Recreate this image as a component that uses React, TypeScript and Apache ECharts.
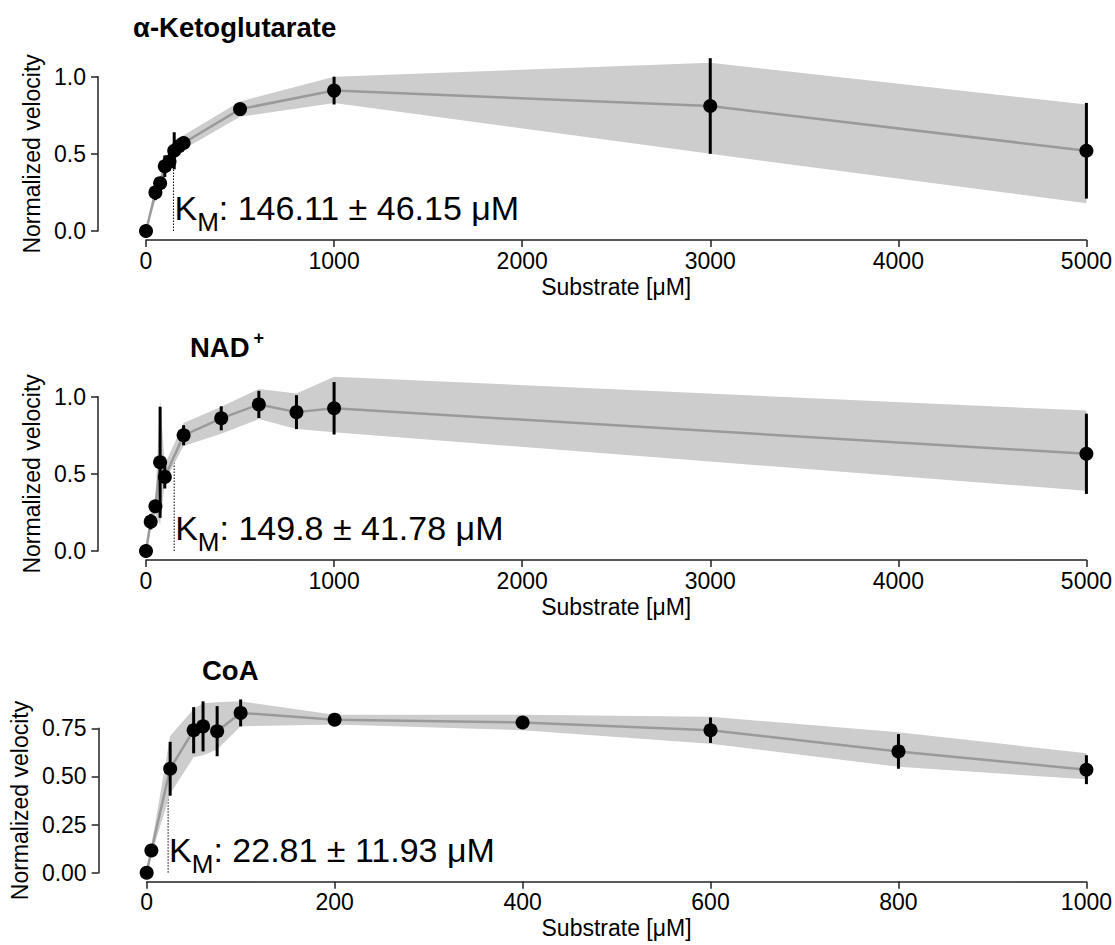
import React, { useEffect, useRef } from "react";
import * as echarts from "echarts";

// ---------- data ----------
const akgX = [0, 50, 75, 100, 125, 150, 175, 200, 500, 1000, 3000, 5000];
const akgY = [0, 0.25, 0.31, 0.42, 0.45, 0.52, 0.55, 0.57, 0.79, 0.91, 0.81, 0.52];
const akgErr = [0, 0.05, 0.04, 0.07, 0.06, 0.12, 0.05, 0.03, 0.02, 0.09, 0.31, 0.31];
const akgLow = [0, 0.2, 0.27, 0.36, 0.4, 0.46, 0.5, 0.53, 0.74, 0.83, 0.5, 0.18];
const akgHigh = [0, 0.3, 0.35, 0.48, 0.5, 0.58, 0.6, 0.62, 0.84, 1.0, 1.09, 0.82];

const nadX = [0, 25, 50, 75, 100, 200, 400, 600, 800, 1000, 5000];
const nadY = [0, 0.19, 0.29, 0.575, 0.48, 0.75, 0.86, 0.95, 0.9, 0.925, 0.63];
const nadErr = [0, 0.05, 0.04, 0.36, 0.075, 0.065, 0.078, 0.088, 0.11, 0.17, 0.26];
const nadLow = [0, 0.14, 0.24, 0.17, 0.45, 0.68, 0.76, 0.855, 0.79, 0.77, 0.39];
const nadHigh = [0, 0.25, 0.34, 0.99, 0.56, 0.83, 0.935, 1.05, 1.02, 1.13, 0.91];

const coaX = [0, 5, 25, 50, 60, 75, 100, 200, 400, 600, 800, 1000];
const coaY = [0, 0.115, 0.54, 0.74, 0.76, 0.735, 0.83, 0.795, 0.78, 0.74, 0.63, 0.535];
const coaErr = [0, 0.02, 0.14, 0.12, 0.13, 0.13, 0.07, 0.015, 0.015, 0.066, 0.09, 0.075];
const coaLow = [0, 0.09, 0.41, 0.6, 0.61, 0.64, 0.76, 0.77, 0.74, 0.67, 0.55, 0.485];
const coaHigh = [0, 0.14, 0.71, 0.85, 0.88, 0.885, 0.89, 0.82, 0.82, 0.81, 0.73, 0.62];

const titles = ["α-Ketoglutarate", "NAD", "CoA"];
const kmValues = [146.11, 149.8, 22.81];
const kmErrors = [46.15, 41.78, 11.93];
const kmLineTop = [0.5, 0.6, 0.41];

const xMaxes = [5000, 5000, 1000];
const xIntervals = [1000, 1000, 200];
const yMaxes = [1, 1, 0.75];
const yIntervals = [0.5, 0.5, 0.25];
const yDecimals = [1, 1, 2];

const xName = "Substrate [μM]";
const yName = "Normalized velocity";

export default function App() {
  const ref = useRef<HTMLDivElement>(null);

  useEffect(() => {
    const chart = echarts.init(ref.current!, null, { renderer: "svg" });
    const font = "'Liberation Sans', Arial, sans-serif";
    const axisColor = "#222";
    const labelSize = 23;

    const sets = [
      { x: akgX, y: akgY, e: akgErr, lo: akgLow, hi: akgHigh },
      { x: nadX, y: nadY, e: nadErr, lo: nadLow, hi: nadHigh },
      { x: coaX, y: coaY, e: coaErr, lo: coaLow, hi: coaHigh },
    ];
    const layout = [
      { top: 76.7, height: 154.3 },
      { top: 396.7, height: 154.3 },
      { top: 728.3, height: 144.4 },
    ];

    const grid = layout.map((l) => ({ left: 146, right: 26, top: l.top, height: l.height }));

    const xAxis = sets.map((_, i) => ({
      type: "value",
      gridIndex: i,
      min: 0,
      max: xMaxes[i],
      interval: xIntervals[i],
      offset: 9,
      name: xName,
      nameLocation: "middle",
      nameGap: 35,
      nameTextStyle: { fontFamily: font, fontSize: labelSize, color: "#000" },
      axisLine: { show: true, onZero: false, lineStyle: { color: axisColor, width: 1.5 } },
      axisTick: { show: true, length: 7, lineStyle: { color: axisColor, width: 1.5 } },
      axisLabel: {
        margin: 9,
        fontFamily: font,
        fontSize: labelSize,
        color: "#000",
        formatter: (v: number) => String(v),
      },
      splitLine: { show: false },
    }));

    const yAxis = sets.map((_, i) => ({
      type: "value",
      gridIndex: i,
      min: 0,
      max: yMaxes[i],
      interval: yIntervals[i],
      offset: 48,
      name: yName,
      nameLocation: "middle",
      nameGap: 54,
      nameTextStyle: { fontFamily: font, fontSize: labelSize, color: "#000" },
      axisLine: { show: true, onZero: false, lineStyle: { color: axisColor, width: 1.5 } },
      axisTick: { show: true, length: 7, lineStyle: { color: axisColor, width: 1.5 } },
      axisLabel: {
        margin: 12,
        fontFamily: font,
        fontSize: labelSize,
        color: "#000",
        formatter: (v: number) => v.toFixed(yDecimals[i]),
      },
      splitLine: { show: false },
    }));

    const series: any[] = [];
    sets.forEach((s, i) => {
      // Km dotted line
      series.push({
        type: "line",
        xAxisIndex: i,
        yAxisIndex: i,
        data: [
          [kmValues[i], 0],
          [kmValues[i], kmLineTop[i]],
        ],
        symbol: "none",
        silent: true,
        clip: false,
        z: 1,
        lineStyle: { color: "#000", width: 1, type: [1.5, 1.5] },
      });
      // band
      const bandData = s.x.map((xv, k) => [xv, s.lo[k], s.hi[k]]);
      series.push({
        type: "custom",
        xAxisIndex: i,
        yAxisIndex: i,
        data: bandData,
        encode: { x: 0, y: [1, 2] },
        silent: true,
        z: 2,
        renderItem: (params: any, api: any) => {
          if (params.dataIndex !== 0) return null;
          const upper = s.x.map((xv, k) => api.coord([xv, s.hi[k]]));
          const lower = s.x.map((xv, k) => api.coord([xv, s.lo[k]])).reverse();
          return {
            type: "polygon",
            shape: { points: upper.concat(lower) },
            style: { fill: "#cdcdcd", stroke: "none" },
          };
        },
      });
      // mean line
      series.push({
        type: "line",
        xAxisIndex: i,
        yAxisIndex: i,
        data: s.x.map((xv, k) => [xv, s.y[k]]),
        symbol: "none",
        silent: true,
        clip: false,
        z: 3,
        lineStyle: { color: "#9a9a9a", width: 2.5 },
      });
      // error bars
      series.push({
        type: "custom",
        xAxisIndex: i,
        yAxisIndex: i,
        data: s.x.map((xv, k) => [xv, s.y[k], s.e[k]]),
        encode: { x: 0, y: 1 },
        silent: true,
        z: 4,
        renderItem: (params: any, api: any) => {
          const xv = api.value(0);
          const yv = api.value(1);
          const ev = api.value(2);
          if (!ev) return null;
          const p1 = api.coord([xv, yv - ev]);
          const p2 = api.coord([xv, yv + ev]);
          return {
            type: "line",
            shape: { x1: p1[0], y1: p1[1], x2: p2[0], y2: p2[1] },
            style: { stroke: "#000", lineWidth: 3 },
          };
        },
      });
      // points
      series.push({
        type: "scatter",
        xAxisIndex: i,
        yAxisIndex: i,
        data: s.x.map((xv, k) => [xv, s.y[k]]),
        symbol: "circle",
        symbolSize: 14,
        clip: false,
        silent: true,
        z: 5,
        itemStyle: { color: "#000", opacity: 1 },
      });
    });

    chart.setOption({
      animation: false,
      grid,
      xAxis,
      yAxis,
      series,
    });

    // annotations
    const canvas = document.createElement("canvas");
    const ctx = canvas.getContext("2d")!;
    const bigSize = 34;
    const subSize = 26;
    const measure = (t: string, size: number, weight = "normal") => {
      ctx.font = `${weight} ${size}px 'Liberation Sans', Arial, sans-serif`;
      return ctx.measureText(t).width;
    };

    const graphics: any[] = [];
    const titleX = [133, 190, 202];
    const titleBase = [37, 357, 680];
    const titleSize = 27.5;
    titles.forEach((t, i) => {
      graphics.push({
        type: "text",
        x: titleX[i],
        y: titleBase[i] - 0.35 * titleSize,
        style: {
          text: t,
          fontFamily: font,
          fontSize: titleSize,
          fontWeight: "bold",
          fill: "#000",
          textAlign: "left",
          textVerticalAlign: "middle",
        },
      });
      if (i === 1) {
        const w = measure(t, titleSize, "bold");
        graphics.push({
          type: "text",
          x: titleX[i] + w + 4,
          y: 338,
          style: {
            text: "+",
            fontFamily: font,
            fontSize: 18,
            fontWeight: "bold",
            fill: "#000",
            textAlign: "left",
            textVerticalAlign: "middle",
          },
        });
      }
    });

    kmValues.forEach((km, i) => {
      const p = chart.convertToPixel({ gridIndex: i }, [km, 0]) as number[];
      const x0 = p[0] + 1;
      const base = p[1] - 11;
      const wK = measure("K", bigSize);
      const wM = measure("M", subSize);
      const rest = `: ${km} ± ${kmErrors[i]} μM`;
      graphics.push({
        type: "text",
        x: x0,
        y: base - 0.35 * bigSize,
        style: { text: "K", fontFamily: font, fontSize: bigSize, fill: "#000", textAlign: "left", textVerticalAlign: "middle" },
        z: 10,
      });
      graphics.push({
        type: "text",
        x: x0 + wK,
        y: p[1] - 0.35 * subSize,
        style: { text: "M", fontFamily: font, fontSize: subSize, fill: "#000", textAlign: "left", textVerticalAlign: "middle" },
        z: 10,
      });
      graphics.push({
        type: "text",
        x: x0 + wK + wM,
        y: base - 0.35 * bigSize,
        style: { text: rest, fontFamily: font, fontSize: bigSize, fill: "#000", textAlign: "left", textVerticalAlign: "middle" },
        z: 10,
      });
    });

    chart.setOption({ graphic: graphics });

    return () => chart.dispose();
  }, []);

  return (
    <div
      ref={ref}
      style={{ position: "absolute", left: 0, top: 0, width: 1115, height: 945, background: "#fff" }}
    />
  );
}
